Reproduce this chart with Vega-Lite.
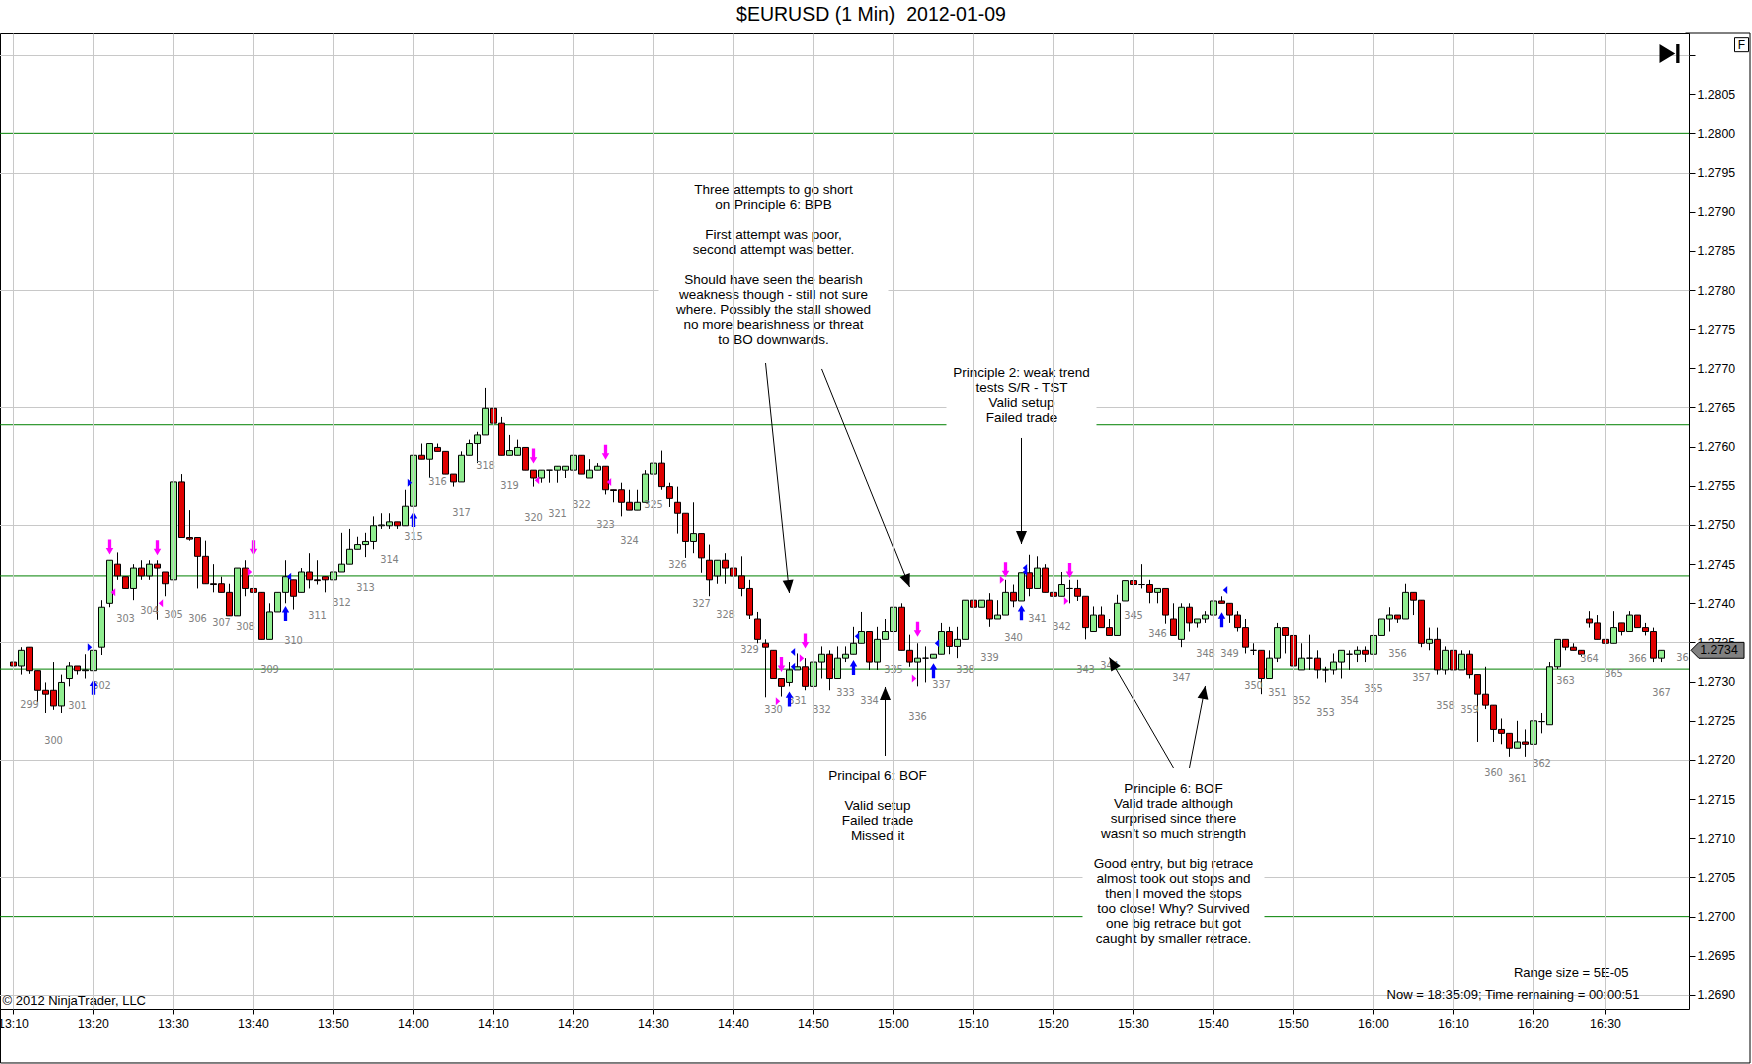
{
  "$schema": "https://vega.github.io/schema/vega-lite/v6.json",
  "width": 1689,
  "height": 976,
  "autosize": {"type": "none"},
  "padding": {"left": 0, "top": 33, "right": 63, "bottom": 55},
  "title": {
    "text": "$EURUSD (1 Min) \u00a02012-01-09",
    "font": "Liberation Sans",
    "fontSize": 19.5,
    "fontWeight": "normal",
    "color": "black",
    "anchor": "middle",
    "frame": "group",
    "dx": 26.5,
    "dy": 18,
    "offset": 10,
    "baseline": "alphabetic"
  },
  "datasets": {
    "candles": [
      {"t": "13:10", "o": 1.27325, "h": 1.27349, "l": 1.27315, "c": 1.2732},
      {"t": "13:11", "o": 1.2732, "h": 1.27344, "l": 1.27309, "c": 1.2734},
      {"t": "13:12", "o": 1.27344, "h": 1.27344, "l": 1.2731, "c": 1.27314, "n": 299},
      {"t": "13:13", "o": 1.27314, "h": 1.27314, "l": 1.27274, "c": 1.27289},
      {"t": "13:14", "o": 1.27289, "h": 1.27299, "l": 1.2726, "c": 1.27284},
      {"t": "13:15", "o": 1.27289, "h": 1.27325, "l": 1.27264, "c": 1.27269, "n": 300},
      {"t": "13:16", "o": 1.27269, "h": 1.27309, "l": 1.2726, "c": 1.27299},
      {"t": "13:17", "o": 1.27304, "h": 1.27325, "l": 1.27294, "c": 1.2732},
      {"t": "13:18", "o": 1.2732, "h": 1.2732, "l": 1.27309, "c": 1.27314, "n": 301},
      {"t": "13:19", "o": 1.27314, "h": 1.27335, "l": 1.27304, "c": 1.27315},
      {"t": "13:20", "o": 1.27314, "h": 1.27343, "l": 1.27309, "c": 1.2734},
      {"t": "13:21", "o": 1.27344, "h": 1.27404, "l": 1.27334, "c": 1.27395, "n": 302},
      {"t": "13:22", "o": 1.274, "h": 1.27455, "l": 1.27395, "c": 1.27455},
      {"t": "13:23", "o": 1.2745, "h": 1.27465, "l": 1.2743, "c": 1.27435},
      {"t": "13:24", "o": 1.27434, "h": 1.27434, "l": 1.27419, "c": 1.27419, "n": 303},
      {"t": "13:25", "o": 1.27419, "h": 1.2745, "l": 1.27404, "c": 1.27445},
      {"t": "13:26", "o": 1.27445, "h": 1.27455, "l": 1.2743, "c": 1.27435},
      {"t": "13:27", "o": 1.27435, "h": 1.27455, "l": 1.2743, "c": 1.2745, "n": 304},
      {"t": "13:28", "o": 1.2745, "h": 1.27455, "l": 1.27379, "c": 1.27445},
      {"t": "13:29", "o": 1.2744, "h": 1.2744, "l": 1.27409, "c": 1.27425},
      {"t": "13:30", "o": 1.2743, "h": 1.27565, "l": 1.27425, "c": 1.27555, "n": 305},
      {"t": "13:31", "o": 1.27555, "h": 1.27565, "l": 1.27484, "c": 1.27484},
      {"t": "13:32", "o": 1.27484, "h": 1.27519, "l": 1.2748, "c": 1.27482},
      {"t": "13:33", "o": 1.27484, "h": 1.27484, "l": 1.27419, "c": 1.2746, "n": 306},
      {"t": "13:34", "o": 1.2746, "h": 1.2748, "l": 1.27425, "c": 1.27425},
      {"t": "13:35", "o": 1.27425, "h": 1.2745, "l": 1.27414, "c": 1.27424},
      {"t": "13:36", "o": 1.27425, "h": 1.27434, "l": 1.27414, "c": 1.27414, "n": 307},
      {"t": "13:37", "o": 1.27414, "h": 1.27425, "l": 1.27384, "c": 1.27384},
      {"t": "13:38", "o": 1.27384, "h": 1.27445, "l": 1.27384, "c": 1.27445},
      {"t": "13:39", "o": 1.27445, "h": 1.27455, "l": 1.27409, "c": 1.27419, "n": 308},
      {"t": "13:40", "o": 1.27419, "h": 1.27455, "l": 1.27409, "c": 1.27414},
      {"t": "13:41", "o": 1.27414, "h": 1.27414, "l": 1.27354, "c": 1.27354},
      {"t": "13:42", "o": 1.27354, "h": 1.274, "l": 1.27354, "c": 1.27389, "n": 309},
      {"t": "13:43", "o": 1.27389, "h": 1.27414, "l": 1.27389, "c": 1.27414},
      {"t": "13:44", "o": 1.27414, "h": 1.27455, "l": 1.274, "c": 1.27434},
      {"t": "13:45", "o": 1.2743, "h": 1.2743, "l": 1.27392, "c": 1.27409, "n": 310},
      {"t": "13:46", "o": 1.27414, "h": 1.27445, "l": 1.27414, "c": 1.2744},
      {"t": "13:47", "o": 1.2744, "h": 1.27464, "l": 1.27419, "c": 1.2743},
      {"t": "13:48", "o": 1.2743, "h": 1.27455, "l": 1.27424, "c": 1.27429, "n": 311},
      {"t": "13:49", "o": 1.27434, "h": 1.27434, "l": 1.27414, "c": 1.2743},
      {"t": "13:50", "o": 1.2743, "h": 1.27445, "l": 1.2743, "c": 1.2744},
      {"t": "13:51", "o": 1.2744, "h": 1.2749, "l": 1.2744, "c": 1.2745, "n": 312},
      {"t": "13:52", "o": 1.2745, "h": 1.27495, "l": 1.2745, "c": 1.27469},
      {"t": "13:53", "o": 1.27469, "h": 1.27485, "l": 1.27469, "c": 1.27475},
      {"t": "13:54", "o": 1.27475, "h": 1.2749, "l": 1.27459, "c": 1.27479, "n": 313},
      {"t": "13:55", "o": 1.27479, "h": 1.27511, "l": 1.27469, "c": 1.27499},
      {"t": "13:56", "o": 1.27499, "h": 1.27515, "l": 1.27495, "c": 1.275},
      {"t": "13:57", "o": 1.27499, "h": 1.27515, "l": 1.27495, "c": 1.27504, "n": 314},
      {"t": "13:58", "o": 1.27504, "h": 1.27504, "l": 1.27495, "c": 1.27499},
      {"t": "13:59", "o": 1.27499, "h": 1.27545, "l": 1.27499, "c": 1.27524},
      {"t": "14:00", "o": 1.27524, "h": 1.27604, "l": 1.27524, "c": 1.27589, "n": 315},
      {"t": "14:01", "o": 1.27589, "h": 1.27604, "l": 1.27584, "c": 1.27584},
      {"t": "14:02", "o": 1.27584, "h": 1.27604, "l": 1.2756, "c": 1.27604},
      {"t": "14:03", "o": 1.27599, "h": 1.27604, "l": 1.27594, "c": 1.27594, "n": 316},
      {"t": "14:04", "o": 1.27594, "h": 1.27594, "l": 1.27565, "c": 1.27565},
      {"t": "14:05", "o": 1.27565, "h": 1.27565, "l": 1.27549, "c": 1.27555},
      {"t": "14:06", "o": 1.27555, "h": 1.27594, "l": 1.27555, "c": 1.27589, "n": 317},
      {"t": "14:07", "o": 1.27589, "h": 1.27609, "l": 1.27589, "c": 1.27604},
      {"t": "14:08", "o": 1.27604, "h": 1.27619, "l": 1.27579, "c": 1.27615},
      {"t": "14:09", "o": 1.27615, "h": 1.27675, "l": 1.27615, "c": 1.27649, "n": 318},
      {"t": "14:10", "o": 1.27649, "h": 1.27649, "l": 1.27619, "c": 1.2763},
      {"t": "14:11", "o": 1.2763, "h": 1.27638, "l": 1.27589, "c": 1.27589},
      {"t": "14:12", "o": 1.27589, "h": 1.27615, "l": 1.27589, "c": 1.27595, "n": 319},
      {"t": "14:13", "o": 1.27589, "h": 1.27609, "l": 1.27589, "c": 1.27599},
      {"t": "14:14", "o": 1.27599, "h": 1.27599, "l": 1.2757, "c": 1.2757},
      {"t": "14:15", "o": 1.2757, "h": 1.2757, "l": 1.27549, "c": 1.2756, "n": 320},
      {"t": "14:16", "o": 1.2756, "h": 1.2757, "l": 1.27554, "c": 1.2757},
      {"t": "14:17", "o": 1.2757, "h": 1.2757, "l": 1.27554, "c": 1.2757},
      {"t": "14:18", "o": 1.2757, "h": 1.27575, "l": 1.27554, "c": 1.27575, "n": 321},
      {"t": "14:19", "o": 1.2757, "h": 1.27575, "l": 1.2756, "c": 1.27575},
      {"t": "14:20", "o": 1.2757, "h": 1.27605, "l": 1.27565, "c": 1.27589},
      {"t": "14:21", "o": 1.27589, "h": 1.27589, "l": 1.27565, "c": 1.27565, "n": 322},
      {"t": "14:22", "o": 1.2756, "h": 1.27584, "l": 1.2756, "c": 1.2757},
      {"t": "14:23", "o": 1.2757, "h": 1.27579, "l": 1.2757, "c": 1.27575},
      {"t": "14:24", "o": 1.27575, "h": 1.27575, "l": 1.27539, "c": 1.27545, "n": 323},
      {"t": "14:25", "o": 1.27545, "h": 1.27545, "l": 1.27529, "c": 1.27544},
      {"t": "14:26", "o": 1.27545, "h": 1.27554, "l": 1.27511, "c": 1.27529},
      {"t": "14:27", "o": 1.27529, "h": 1.27545, "l": 1.27519, "c": 1.27519, "n": 324},
      {"t": "14:28", "o": 1.27519, "h": 1.27545, "l": 1.27519, "c": 1.27529},
      {"t": "14:29", "o": 1.27529, "h": 1.2757, "l": 1.27529, "c": 1.27565},
      {"t": "14:30", "o": 1.27565, "h": 1.27579, "l": 1.27565, "c": 1.27579, "n": 325},
      {"t": "14:31", "o": 1.27579, "h": 1.27595, "l": 1.27545, "c": 1.27549},
      {"t": "14:32", "o": 1.27549, "h": 1.27554, "l": 1.27523, "c": 1.27534},
      {"t": "14:33", "o": 1.27529, "h": 1.27549, "l": 1.27489, "c": 1.27515, "n": 326},
      {"t": "14:34", "o": 1.27515, "h": 1.27515, "l": 1.27458, "c": 1.27479},
      {"t": "14:35", "o": 1.27479, "h": 1.27529, "l": 1.27464, "c": 1.27489},
      {"t": "14:36", "o": 1.27489, "h": 1.27489, "l": 1.27439, "c": 1.27458, "n": 327},
      {"t": "14:37", "o": 1.27455, "h": 1.27475, "l": 1.27409, "c": 1.2743},
      {"t": "14:38", "o": 1.27435, "h": 1.27455, "l": 1.27425, "c": 1.27455},
      {"t": "14:39", "o": 1.27455, "h": 1.27464, "l": 1.27425, "c": 1.27445, "n": 328},
      {"t": "14:40", "o": 1.27445, "h": 1.27464, "l": 1.27419, "c": 1.27435},
      {"t": "14:41", "o": 1.27435, "h": 1.2746, "l": 1.27409, "c": 1.27419},
      {"t": "14:42", "o": 1.27419, "h": 1.2743, "l": 1.2738, "c": 1.27385, "n": 329},
      {"t": "14:43", "o": 1.2738, "h": 1.27389, "l": 1.27349, "c": 1.27354},
      {"t": "14:44", "o": 1.27349, "h": 1.27354, "l": 1.2728, "c": 1.27344},
      {"t": "14:45", "o": 1.2734, "h": 1.2734, "l": 1.27304, "c": 1.27304, "n": 330},
      {"t": "14:46", "o": 1.27304, "h": 1.27304, "l": 1.27281, "c": 1.27294},
      {"t": "14:47", "o": 1.27299, "h": 1.27325, "l": 1.27294, "c": 1.27315},
      {"t": "14:48", "o": 1.27315, "h": 1.27336, "l": 1.27315, "c": 1.27319, "n": 331},
      {"t": "14:49", "o": 1.27319, "h": 1.2733, "l": 1.27289, "c": 1.27294},
      {"t": "14:50", "o": 1.27294, "h": 1.27325, "l": 1.27289, "c": 1.27325},
      {"t": "14:51", "o": 1.27325, "h": 1.27345, "l": 1.27304, "c": 1.27335, "n": 332},
      {"t": "14:52", "o": 1.27335, "h": 1.2734, "l": 1.27289, "c": 1.27304},
      {"t": "14:53", "o": 1.27304, "h": 1.27345, "l": 1.27304, "c": 1.2733},
      {"t": "14:54", "o": 1.2733, "h": 1.27345, "l": 1.27325, "c": 1.27335, "n": 333},
      {"t": "14:55", "o": 1.27335, "h": 1.2737, "l": 1.27335, "c": 1.27349},
      {"t": "14:56", "o": 1.27349, "h": 1.27389, "l": 1.27349, "c": 1.27364},
      {"t": "14:57", "o": 1.27364, "h": 1.27364, "l": 1.27315, "c": 1.27325, "n": 334},
      {"t": "14:58", "o": 1.27325, "h": 1.2737, "l": 1.27315, "c": 1.27354},
      {"t": "14:59", "o": 1.27354, "h": 1.2738, "l": 1.27354, "c": 1.27364},
      {"t": "15:00", "o": 1.27364, "h": 1.27395, "l": 1.27354, "c": 1.27395, "n": 335},
      {"t": "15:01", "o": 1.27395, "h": 1.274, "l": 1.2734, "c": 1.2734},
      {"t": "15:02", "o": 1.2734, "h": 1.2736, "l": 1.27319, "c": 1.27325},
      {"t": "15:03", "o": 1.27325, "h": 1.27349, "l": 1.27294, "c": 1.2733, "n": 336},
      {"t": "15:04", "o": 1.2733, "h": 1.27345, "l": 1.27299, "c": 1.2733},
      {"t": "15:05", "o": 1.2733, "h": 1.27335, "l": 1.2733, "c": 1.27335},
      {"t": "15:06", "o": 1.27335, "h": 1.27375, "l": 1.27335, "c": 1.27364, "n": 337},
      {"t": "15:07", "o": 1.27364, "h": 1.2737, "l": 1.27335, "c": 1.27345},
      {"t": "15:08", "o": 1.27345, "h": 1.2737, "l": 1.2733, "c": 1.27354},
      {"t": "15:09", "o": 1.27354, "h": 1.27404, "l": 1.27354, "c": 1.27404, "n": 338},
      {"t": "15:10", "o": 1.27404, "h": 1.27404, "l": 1.27385, "c": 1.27395},
      {"t": "15:11", "o": 1.27395, "h": 1.27404, "l": 1.27395, "c": 1.27404},
      {"t": "15:12", "o": 1.27404, "h": 1.27413, "l": 1.2737, "c": 1.2738, "n": 339},
      {"t": "15:13", "o": 1.2738, "h": 1.27404, "l": 1.2738, "c": 1.27385},
      {"t": "15:14", "o": 1.27385, "h": 1.2743, "l": 1.27385, "c": 1.27414},
      {"t": "15:15", "o": 1.27414, "h": 1.27424, "l": 1.27395, "c": 1.27403, "n": 340},
      {"t": "15:16", "o": 1.27403, "h": 1.27439, "l": 1.27403, "c": 1.27439},
      {"t": "15:17", "o": 1.27439, "h": 1.27462, "l": 1.27409, "c": 1.27419},
      {"t": "15:18", "o": 1.27419, "h": 1.2746, "l": 1.27419, "c": 1.27445, "n": 341},
      {"t": "15:19", "o": 1.27445, "h": 1.2745, "l": 1.27414, "c": 1.27414},
      {"t": "15:20", "o": 1.27414, "h": 1.2745, "l": 1.27409, "c": 1.27409},
      {"t": "15:21", "o": 1.27409, "h": 1.2744, "l": 1.27409, "c": 1.27424, "n": 342},
      {"t": "15:22", "o": 1.27419, "h": 1.2743, "l": 1.274, "c": 1.27419},
      {"t": "15:23", "o": 1.27419, "h": 1.2743, "l": 1.27403, "c": 1.27409},
      {"t": "15:24", "o": 1.27409, "h": 1.27409, "l": 1.27354, "c": 1.27369, "n": 343},
      {"t": "15:25", "o": 1.27364, "h": 1.27396, "l": 1.27364, "c": 1.27385},
      {"t": "15:26", "o": 1.27385, "h": 1.27396, "l": 1.27369, "c": 1.27369},
      {"t": "15:27", "o": 1.27369, "h": 1.2738, "l": 1.27359, "c": 1.27359, "n": 344},
      {"t": "15:28", "o": 1.27359, "h": 1.27411, "l": 1.27359, "c": 1.274},
      {"t": "15:29", "o": 1.27403, "h": 1.27429, "l": 1.27403, "c": 1.27429},
      {"t": "15:30", "o": 1.27429, "h": 1.2744, "l": 1.27424, "c": 1.27424, "n": 345},
      {"t": "15:31", "o": 1.27424, "h": 1.2745, "l": 1.27419, "c": 1.27424},
      {"t": "15:32", "o": 1.27424, "h": 1.2743, "l": 1.274, "c": 1.27414},
      {"t": "15:33", "o": 1.27414, "h": 1.27419, "l": 1.274, "c": 1.27419, "n": 346},
      {"t": "15:34", "o": 1.27419, "h": 1.27419, "l": 1.27374, "c": 1.27385},
      {"t": "15:35", "o": 1.2738, "h": 1.274, "l": 1.27359, "c": 1.27359},
      {"t": "15:36", "o": 1.27354, "h": 1.274, "l": 1.27344, "c": 1.27395, "n": 347},
      {"t": "15:37", "o": 1.27395, "h": 1.274, "l": 1.27364, "c": 1.27375},
      {"t": "15:38", "o": 1.27375, "h": 1.2738, "l": 1.27369, "c": 1.2738},
      {"t": "15:39", "o": 1.2738, "h": 1.2739, "l": 1.27375, "c": 1.27385, "n": 348},
      {"t": "15:40", "o": 1.27385, "h": 1.27409, "l": 1.2738, "c": 1.27403},
      {"t": "15:41", "o": 1.27403, "h": 1.27409, "l": 1.274, "c": 1.274},
      {"t": "15:42", "o": 1.274, "h": 1.274, "l": 1.27375, "c": 1.27385, "n": 349},
      {"t": "15:43", "o": 1.27385, "h": 1.2739, "l": 1.27364, "c": 1.27369},
      {"t": "15:44", "o": 1.27369, "h": 1.2738, "l": 1.27336, "c": 1.27344},
      {"t": "15:45", "o": 1.2734, "h": 1.27349, "l": 1.27334, "c": 1.2734, "n": 350},
      {"t": "15:46", "o": 1.2734, "h": 1.2734, "l": 1.27284, "c": 1.27304},
      {"t": "15:47", "o": 1.27304, "h": 1.2734, "l": 1.27304, "c": 1.2733},
      {"t": "15:48", "o": 1.2733, "h": 1.27375, "l": 1.27325, "c": 1.27369, "n": 351},
      {"t": "15:49", "o": 1.27369, "h": 1.27369, "l": 1.27336, "c": 1.27359},
      {"t": "15:50", "o": 1.27359, "h": 1.27359, "l": 1.27309, "c": 1.2732},
      {"t": "15:51", "o": 1.27315, "h": 1.27349, "l": 1.27315, "c": 1.2733, "n": 352},
      {"t": "15:52", "o": 1.2733, "h": 1.2736, "l": 1.27315, "c": 1.2733},
      {"t": "15:53", "o": 1.2733, "h": 1.2734, "l": 1.27304, "c": 1.27315},
      {"t": "15:54", "o": 1.27315, "h": 1.27319, "l": 1.27299, "c": 1.27315, "n": 353},
      {"t": "15:55", "o": 1.27315, "h": 1.27336, "l": 1.27309, "c": 1.27325},
      {"t": "15:56", "o": 1.27325, "h": 1.2734, "l": 1.27304, "c": 1.2734},
      {"t": "15:57", "o": 1.27335, "h": 1.2734, "l": 1.27315, "c": 1.27335, "n": 354},
      {"t": "15:58", "o": 1.27335, "h": 1.27345, "l": 1.27325, "c": 1.2734},
      {"t": "15:59", "o": 1.2734, "h": 1.27345, "l": 1.27325, "c": 1.27335},
      {"t": "16:00", "o": 1.27335, "h": 1.2738, "l": 1.2733, "c": 1.27359, "n": 355},
      {"t": "16:01", "o": 1.27359, "h": 1.2738, "l": 1.27359, "c": 1.2738},
      {"t": "16:02", "o": 1.2738, "h": 1.27395, "l": 1.27364, "c": 1.27385},
      {"t": "16:03", "o": 1.27385, "h": 1.27385, "l": 1.27375, "c": 1.2738, "n": 356},
      {"t": "16:04", "o": 1.2738, "h": 1.27425, "l": 1.2738, "c": 1.27414},
      {"t": "16:05", "o": 1.27414, "h": 1.27414, "l": 1.27385, "c": 1.27404},
      {"t": "16:06", "o": 1.27404, "h": 1.27404, "l": 1.27344, "c": 1.27349, "n": 357},
      {"t": "16:07", "o": 1.27349, "h": 1.27369, "l": 1.2734, "c": 1.27354},
      {"t": "16:08", "o": 1.27354, "h": 1.27369, "l": 1.27309, "c": 1.27315},
      {"t": "16:09", "o": 1.27315, "h": 1.27345, "l": 1.27309, "c": 1.2734, "n": 358},
      {"t": "16:10", "o": 1.2734, "h": 1.27349, "l": 1.27315, "c": 1.27315},
      {"t": "16:11", "o": 1.27315, "h": 1.2734, "l": 1.27315, "c": 1.27335},
      {"t": "16:12", "o": 1.27335, "h": 1.2734, "l": 1.27304, "c": 1.27309, "n": 359},
      {"t": "16:13", "o": 1.27309, "h": 1.27309, "l": 1.27223, "c": 1.27284},
      {"t": "16:14", "o": 1.27284, "h": 1.27319, "l": 1.27265, "c": 1.2727},
      {"t": "16:15", "o": 1.2727, "h": 1.2727, "l": 1.27223, "c": 1.27239, "n": 360},
      {"t": "16:16", "o": 1.27239, "h": 1.27253, "l": 1.2722, "c": 1.27234},
      {"t": "16:17", "o": 1.27234, "h": 1.27234, "l": 1.27204, "c": 1.27215},
      {"t": "16:18", "o": 1.27215, "h": 1.2725, "l": 1.27215, "c": 1.27223, "n": 361},
      {"t": "16:19", "o": 1.27223, "h": 1.27239, "l": 1.27204, "c": 1.2722},
      {"t": "16:20", "o": 1.2722, "h": 1.2727, "l": 1.2722, "c": 1.2725},
      {"t": "16:21", "o": 1.27249, "h": 1.2726, "l": 1.27234, "c": 1.27249, "n": 362},
      {"t": "16:22", "o": 1.27245, "h": 1.27325, "l": 1.27245, "c": 1.27319},
      {"t": "16:23", "o": 1.27319, "h": 1.27354, "l": 1.27316, "c": 1.27354},
      {"t": "16:24", "o": 1.27354, "h": 1.27354, "l": 1.2734, "c": 1.27344, "n": 363},
      {"t": "16:26", "o": 1.27344, "h": 1.27349, "l": 1.2734, "c": 1.2734},
      {"t": "16:27", "o": 1.2734, "h": 1.2734, "l": 1.27332, "c": 1.27335},
      {"t": "16:28", "o": 1.2738, "h": 1.2739, "l": 1.27369, "c": 1.27375, "n": 364},
      {"t": "16:29", "o": 1.27375, "h": 1.27385, "l": 1.27354, "c": 1.27354},
      {"t": "16:30", "o": 1.27354, "h": 1.27354, "l": 1.27349, "c": 1.27349},
      {"t": "16:31", "o": 1.27349, "h": 1.2739, "l": 1.27349, "c": 1.27369, "n": 365},
      {"t": "16:32", "o": 1.27375, "h": 1.27375, "l": 1.27359, "c": 1.27364},
      {"t": "16:33", "o": 1.27364, "h": 1.2739, "l": 1.27364, "c": 1.27385},
      {"t": "16:34", "o": 1.27385, "h": 1.27385, "l": 1.27369, "c": 1.27369, "n": 366},
      {"t": "16:35", "o": 1.27369, "h": 1.27375, "l": 1.27359, "c": 1.27364},
      {"t": "16:36", "o": 1.27364, "h": 1.27369, "l": 1.27325, "c": 1.2733},
      {"t": "16:37", "o": 1.2733, "h": 1.2734, "l": 1.27325, "c": 1.2734, "n": 367}
    ],
    "levels": [
      {"p": 1.28},
      {"p": 1.27628},
      {"p": 1.27435},
      {"p": 1.27316},
      {"p": 1.27}
    ],
    "markers": [
      {"t": "13:22", "p": 1.27472, "sig": "sell", "g": "arrow"},
      {"t": "13:28", "p": 1.27471, "sig": "sell", "g": "arrow"},
      {"t": "13:40", "p": 1.27471, "sig": "sell", "g": "arrow"},
      {"t": "14:15", "p": 1.27588, "sig": "sell", "g": "arrow"},
      {"t": "14:24", "p": 1.27593, "sig": "sell", "g": "arrow"},
      {"t": "14:46", "p": 1.27322, "sig": "sell", "g": "arrow"},
      {"t": "14:49", "p": 1.27352, "sig": "sell", "g": "arrow"},
      {"t": "15:03", "p": 1.27367, "sig": "sell", "g": "arrow"},
      {"t": "15:14", "p": 1.27443, "sig": "sell", "g": "arrow"},
      {"t": "15:22", "p": 1.27442, "sig": "sell", "g": "arrow"},
      {"t": "13:20", "p": 1.27293, "sig": "buy", "g": "arrow"},
      {"t": "13:44", "p": 1.27387, "sig": "buy", "g": "arrow"},
      {"t": "14:00", "p": 1.27507, "sig": "buy", "g": "arrow"},
      {"t": "14:47", "p": 1.27278, "sig": "buy", "g": "arrow"},
      {"t": "14:55", "p": 1.27318, "sig": "buy", "g": "arrow"},
      {"t": "15:05", "p": 1.27314, "sig": "buy", "g": "arrow"},
      {"t": "15:16", "p": 1.27388, "sig": "buy", "g": "arrow"},
      {"t": "15:41", "p": 1.27379, "sig": "buy", "g": "arrow"},
      {"t": "13:20", "p": 1.27344, "sig": "buy", "g": "tri-r"},
      {"t": "14:00", "p": 1.27554, "sig": "buy", "g": "tri-r"},
      {"t": "13:40", "p": 1.2744, "sig": "sell", "g": "tri-r"},
      {"t": "14:46", "p": 1.27275, "sig": "sell", "g": "tri-r"},
      {"t": "14:49", "p": 1.2733, "sig": "sell", "g": "tri-r"},
      {"t": "15:03", "p": 1.27304, "sig": "sell", "g": "tri-r"},
      {"t": "15:14", "p": 1.2743, "sig": "sell", "g": "tri-r"},
      {"t": "15:22", "p": 1.27403, "sig": "sell", "g": "tri-r"},
      {"t": "13:44", "p": 1.27434, "sig": "buy", "g": "tri-l"},
      {"t": "14:47", "p": 1.27338, "sig": "buy", "g": "tri-l"},
      {"t": "14:47", "p": 1.27319, "sig": "buy", "g": "tri-l"},
      {"t": "14:55", "p": 1.27358, "sig": "buy", "g": "tri-l"},
      {"t": "15:05", "p": 1.27349, "sig": "buy", "g": "tri-l"},
      {"t": "15:16", "p": 1.27445, "sig": "buy", "g": "tri-l"},
      {"t": "15:16", "p": 1.2744, "sig": "buy", "g": "tri-l"},
      {"t": "15:41", "p": 1.27417, "sig": "buy", "g": "tri-l"},
      {"t": "13:22", "p": 1.27414, "sig": "sell", "g": "tri-l"},
      {"t": "13:28", "p": 1.274, "sig": "sell", "g": "tri-l"},
      {"t": "14:15", "p": 1.27557, "sig": "sell", "g": "tri-l"},
      {"t": "14:24", "p": 1.27555, "sig": "sell", "g": "tri-l"}
    ],
    "boxes": [
      {"t1": "14:31", "t2": "14:59", "p1": 1.279449, "p2": 1.277234},
      {"t1": "15:07", "t2": "15:25", "p1": 1.277106, "p2": 1.276251},
      {"t1": "14:51", "t2": "15:05", "p1": 1.271936, "p2": 1.270927},
      {"t1": "15:24", "t2": "15:46", "p1": 1.271757, "p2": 1.269606}
    ],
    "arrows": [
      {"t1": "14:44", "p1": 1.277068, "t2": "14:47", "p2": 1.274132, "a": 174},
      {"t1": "14:51", "p1": 1.276992, "t2": "15:02", "p2": 1.274208, "a": 158},
      {"t1": "15:16", "p1": 1.276111, "t2": "15:16", "p2": 1.274757, "a": 180},
      {"t1": "14:59", "p1": 1.272051, "t2": "14:59", "p2": 1.272932, "a": 0},
      {"t1": "15:35", "p1": 1.271898, "t2": "15:27", "p2": 1.273308, "a": 330},
      {"t1": "15:37", "p1": 1.271898, "t2": "15:39", "p2": 1.272945, "a": 11}
    ],
    "notes": [
      {"t": "14:45", "p": 1.279361, "txt": "Three attempts to go short\non Principle 6: BPB"},
      {"t": "14:45", "p": 1.278787, "txt": "First attempt was poor,\nsecond attempt was better."},
      {"t": "14:45", "p": 1.278212, "txt": "Should have seen the bearish\nweakness though - still not sure\nwhere. Possibly the stall showed\nno more bearishness or threat\nto BO downwards."},
      {"t": "15:16", "p": 1.277036, "txt": "Principle 2: weak trend\ntests S/R - TST\nValid setup\nFailed trade"},
      {"t": "14:58", "p": 1.271888, "txt": "Principal 6: BOF"},
      {"t": "14:58", "p": 1.271505, "txt": "Valid setup\nFailed trade\nMissed it"},
      {"t": "15:35", "p": 1.271716, "txt": "Principle 6: BOF\nValid trade although\nsurprised since there\nwasn't so much strength"},
      {"t": "15:35", "p": 1.270759, "txt": "Good entry, but big retrace\nalmost took out stops and\nthen I moved the stops\ntoo close! Why? Survived\none big retrace but got\ncaught by smaller retrace."}
    ]
  },
  "layer": [
    {
      "data": {"name": "levels"},
      "mark": {"type": "rule", "color": "#008000", "strokeWidth": 1},
      "encoding": {
        "y": {"field": "p", "type": "quantitative"}
      }
    },
    {
      "data": {"name": "boxes"},
      "mark": {"type": "rect", "color": "white", "opacity": 1},
      "encoding": {
        "x": {"field": "t1", "type": "ordinal", "bandPosition": 0},
        "x2": {"field": "t2", "bandPosition": 1},
        "y": {"field": "p1", "type": "quantitative"},
        "y2": {"field": "p2"}
      }
    },
    {
      "data": {"name": "arrows"},
      "mark": {"type": "rule", "color": "black", "strokeWidth": 1},
      "encoding": {
        "x": {"field": "t1", "type": "ordinal", "bandPosition": 0.5},
        "x2": {"field": "t2", "bandPosition": 0.5},
        "y": {"field": "p1", "type": "quantitative"},
        "y2": {"field": "p2"}
      }
    },
    {
      "data": {"name": "candles"},
      "mark": {"type": "rule", "color": "black", "strokeWidth": 1},
      "encoding": {
        "x": {
          "field": "t",
          "type": "ordinal",
          "scale": {
            "domain": ["13:10","13:11","13:12","13:13","13:14","13:15","13:16","13:17","13:18","13:19","13:20","13:21","13:22","13:23","13:24","13:25","13:26","13:27","13:28","13:29","13:30","13:31","13:32","13:33","13:34","13:35","13:36","13:37","13:38","13:39","13:40","13:41","13:42","13:43","13:44","13:45","13:46","13:47","13:48","13:49","13:50","13:51","13:52","13:53","13:54","13:55","13:56","13:57","13:58","13:59","14:00","14:01","14:02","14:03","14:04","14:05","14:06","14:07","14:08","14:09","14:10","14:11","14:12","14:13","14:14","14:15","14:16","14:17","14:18","14:19","14:20","14:21","14:22","14:23","14:24","14:25","14:26","14:27","14:28","14:29","14:30","14:31","14:32","14:33","14:34","14:35","14:36","14:37","14:38","14:39","14:40","14:41","14:42","14:43","14:44","14:45","14:46","14:47","14:48","14:49","14:50","14:51","14:52","14:53","14:54","14:55","14:56","14:57","14:58","14:59","15:00","15:01","15:02","15:03","15:04","15:05","15:06","15:07","15:08","15:09","15:10","15:11","15:12","15:13","15:14","15:15","15:16","15:17","15:18","15:19","15:20","15:21","15:22","15:23","15:24","15:25","15:26","15:27","15:28","15:29","15:30","15:31","15:32","15:33","15:34","15:35","15:36","15:37","15:38","15:39","15:40","15:41","15:42","15:43","15:44","15:45","15:46","15:47","15:48","15:49","15:50","15:51","15:52","15:53","15:54","15:55","15:56","15:57","15:58","15:59","16:00","16:01","16:02","16:03","16:04","16:05","16:06","16:07","16:08","16:09","16:10","16:11","16:12","16:13","16:14","16:15","16:16","16:17","16:18","16:19","16:20","16:21","16:22","16:23","16:24","16:26","16:27","16:28","16:29","16:30","16:31","16:32","16:33","16:34","16:35","16:36","16:37","16:38","16:39","16:40","16:41","16:42","16:43","16:44","16:45","16:46","16:47","16:48"],
            "range": [0, 1752.5],
            "paddingInner": 0.25,
            "paddingOuter": 0.65625,
            "align": 1,
            "round": false
          },
          "axis": {
            "values": ["13:10","13:20","13:30","13:40","13:50","14:00","14:10","14:20","14:30","14:40","14:50","15:00","15:10","15:20","15:30","15:40","15:50","16:00","16:10","16:20","16:30"],
            "title": null,
            "grid": true,
            "gridColor": "#c8c8c8",
            "gridWidth": 1,
            "bandPosition": 0.5,
            "domain": false,
            "ticks": true,
            "tickColor": "black",
            "tickSize": 5,
            "labelAngle": 0,
            "labelAlign": "center",
            "labelBaseline": "top",
            "labelFont": "Liberation Sans",
            "labelFontSize": 12.3,
            "labelColor": "black",
            "labelPadding": 3,
            "labelFlush": false,
            "labelOverlap": false,
            "labelBound": false
          }
        },
        "y": {
          "field": "l",
          "type": "quantitative",
          "scale": {"domain": [1.268821, 1.281281], "nice": false, "zero": false},
          "axis": {
            "orient": "right",
            "values": [1.269, 1.2695, 1.27, 1.2705, 1.271, 1.2715, 1.272, 1.2725, 1.273, 1.2735, 1.274, 1.2745, 1.275, 1.2755, 1.276, 1.2765, 1.277, 1.2775, 1.278, 1.2785, 1.279, 1.2795, 1.28, 1.2805, 1.281],
            "format": ".4f",
            "labelExpr": "datum.value > 1.28075 ? '' : datum.label",
            "title": null,
            "grid": true,
            "gridColor": "#c8c8c8",
            "gridWidth": 1,
            "gridOpacity": {"condition": {"test": "round(datum.value * 10000) % 15 == 0", "value": 1}, "value": 0},
            "domain": false,
            "tickColor": "black",
            "tickSize": 6,
            "labelFont": "Liberation Sans",
            "labelFontSize": 12.3,
            "labelColor": "black",
            "labelPadding": 2,
            "labelOverlap": false,
            "labelBound": false
          }
        },
        "y2": {"field": "h"}
      }
    },
    {
      "data": {"name": "candles"},
      "mark": {"type": "bar", "stroke": "black", "strokeWidth": 1},
      "encoding": {
        "x": {"field": "t", "type": "ordinal"},
        "y": {"field": "o", "type": "quantitative"},
        "y2": {"field": "c"},
        "color": {"condition": {"test": "datum.c >= datum.o", "value": "#90ee90"}, "value": "#e00000"}
      }
    },
    {
      "data": {"name": "candles"},
      "transform": [{"filter": "isValid(datum.n)"}],
      "mark": {"type": "text", "font": "DejaVu Sans", "fontSize": 9.8, "color": "#808080", "dy": 31, "baseline": "middle", "align": "center"},
      "encoding": {
        "x": {"field": "t", "type": "ordinal"},
        "y": {"field": "l", "type": "quantitative"},
        "text": {"field": "n"}
      }
    },
    {
      "data": {"values": [{"t": "16:40", "p": 1.2733, "n": 368}]},
      "mark": {"type": "text", "font": "DejaVu Sans", "fontSize": 9.8, "color": "#808080", "baseline": "middle", "align": "center", "clip": true},
      "encoding": {
        "x": {"field": "t", "type": "ordinal"},
        "y": {"field": "p", "type": "quantitative"},
        "text": {"field": "n"}
      }
    },
    {
      "data": {"name": "arrows"},
      "mark": {"type": "point", "shape": "M0,0L-0.55,1.3L0.55,1.3Z", "size": 400, "filled": true, "color": "black", "opacity": 1, "strokeWidth": 0},
      "encoding": {
        "x": {"field": "t2", "type": "ordinal"},
        "y": {"field": "p2", "type": "quantitative"},
        "angle": {"field": "a", "type": "quantitative", "scale": null}
      }
    },
    {
      "data": {"name": "markers"},
      "transform": [{"filter": "datum.g == 'arrow'"}],
      "mark": {"type": "point", "filled": true, "size": 225, "opacity": 1, "strokeWidth": 0},
      "encoding": {
        "x": {"field": "t", "type": "ordinal"},
        "y": {"field": "p", "type": "quantitative"},
        "shape": {
          "field": "sig",
          "type": "nominal",
          "scale": {"domain": ["buy", "sell"], "range": ["M-0.22,1L0.22,1L0.22,-0.15L0.5,-0.15L0,-1L-0.5,-0.15L-0.22,-0.15Z", "M-0.22,-1L0.22,-1L0.22,0.15L0.5,0.15L0,1L-0.5,0.15L-0.22,0.15Z"]},
          "legend": null
        },
        "color": {"field": "sig", "type": "nominal", "scale": {"domain": ["buy", "sell"], "range": ["#0000ff", "#ff00ff"]}, "legend": null}
      }
    },
    {
      "data": {"name": "markers"},
      "transform": [{"filter": "datum.g == 'tri-r'"}],
      "mark": {"type": "point", "shape": "M-0.55,-1L0.55,0L-0.55,1Z", "filled": true, "size": 64, "opacity": 1, "strokeWidth": 0, "xOffset": -3.5},
      "encoding": {
        "x": {"field": "t", "type": "ordinal"},
        "y": {"field": "p", "type": "quantitative"},
        "color": {"field": "sig", "type": "nominal", "legend": null}
      }
    },
    {
      "data": {"name": "markers"},
      "transform": [{"filter": "datum.g == 'tri-l'"}],
      "mark": {"type": "point", "shape": "M0.55,-1L-0.55,0L0.55,1Z", "filled": true, "size": 64, "opacity": 1, "strokeWidth": 0, "xOffset": 3.5},
      "encoding": {
        "x": {"field": "t", "type": "ordinal"},
        "y": {"field": "p", "type": "quantitative"},
        "color": {"field": "sig", "type": "nominal", "legend": null}
      }
    },
    {
      "data": {"name": "notes"},
      "mark": {"type": "text", "font": "Liberation Sans", "fontSize": 13.5, "lineHeight": 15, "lineBreak": "\n", "align": "center", "baseline": "top", "color": "black"},
      "encoding": {
        "x": {"field": "t", "type": "ordinal"},
        "y": {"field": "p", "type": "quantitative"},
        "text": {"field": "txt"}
      }
    },
    {
      "data": {"values": [{}]},
      "mark": {"type": "point", "shape": "M-1,0L-0.7,-0.3L1,-0.3L1,0.3L-0.7,0.3Z", "size": 2809, "filled": true, "fill": "#808080", "stroke": "black", "strokeWidth": 1, "opacity": 1},
      "encoding": {
        "x": {"datum": "16:44", "type": "ordinal"},
        "y": {"datum": 1.2734, "type": "quantitative"}
      }
    },
    {
      "data": {"values": [{}]},
      "mark": {"type": "text", "text": "1.2734", "font": "Liberation Sans", "fontSize": 12.3, "color": "black", "dx": 1.5, "align": "center", "baseline": "middle"},
      "encoding": {
        "x": {"datum": "16:44", "type": "ordinal"},
        "y": {"datum": 1.2734, "type": "quantitative"}
      }
    },
    {
      "data": {"values": [{}]},
      "mark": {"type": "point", "shape": "square", "size": 196, "filled": true, "fill": "white", "stroke": "black", "strokeWidth": 1, "opacity": 1},
      "encoding": {
        "x": {"datum": "16:47", "type": "ordinal"},
        "y": {"datum": 1.281132, "type": "quantitative"}
      }
    },
    {
      "data": {"values": [{}]},
      "mark": {"type": "text", "text": "F", "font": "Liberation Sans", "fontSize": 12, "color": "black", "align": "center", "baseline": "middle"},
      "encoding": {
        "x": {"datum": "16:47", "type": "ordinal"},
        "y": {"datum": 1.281132, "type": "quantitative"}
      }
    },
    {
      "data": {"values": [{}]},
      "mark": {"type": "point", "shape": "M-1,-0.95L0.57,0L-1,0.95Z M0.67,-0.95L1,-0.95L1,0.95L0.67,0.95Z", "size": 400, "filled": true, "color": "black", "opacity": 1, "strokeWidth": 0},
      "encoding": {
        "x": {"datum": "16:38", "type": "ordinal"},
        "y": {"datum": 1.281019, "type": "quantitative"}
      }
    },
    {
      "data": {"values": [{}]},
      "mark": {"type": "text", "text": "\u00a9 2012 NinjaTrader, LLC", "font": "Liberation Sans", "fontSize": 13, "color": "black", "align": "left", "baseline": "middle", "dx": -11},
      "encoding": {
        "x": {"datum": "13:10", "type": "ordinal"},
        "y": {"datum": 1.268927, "type": "quantitative"}
      }
    },
    {
      "data": {"values": [{}]},
      "mark": {"type": "text", "text": "Range size = 5E-05", "font": "Liberation Sans", "fontSize": 13, "color": "black", "align": "right", "baseline": "middle", "dx": -1},
      "encoding": {
        "x": {"datum": "16:33", "type": "ordinal"},
        "y": {"datum": 1.269277, "type": "quantitative"}
      }
    },
    {
      "data": {"values": [{}]},
      "mark": {"type": "text", "text": "Now = 18:35:09; Time remaining = 00:00:51", "font": "Liberation Sans", "fontSize": 13, "color": "black", "align": "right", "baseline": "middle", "dx": 2},
      "encoding": {
        "x": {"datum": "16:34", "type": "ordinal"},
        "y": {"datum": 1.269, "type": "quantitative"}
      }
    },
    {
      "data": {"values": [{}]},
      "mark": {"type": "rule", "color": "black", "strokeWidth": 1, "xOffset": -13, "x2Offset": 0.5},
      "encoding": {
        "x": {"datum": "13:10", "type": "ordinal"},
        "x2": {"datum": "16:48"},
        "y": {"datum": 1.268132, "type": "quantitative"}
      }
    },
    {
      "data": {"values": [{}]},
      "mark": {"type": "rule", "color": "black", "strokeWidth": 1, "xOffset": 0.5},
      "encoding": {
        "x": {"datum": "16:48", "type": "ordinal"},
        "y": {"datum": 1.281281, "type": "quantitative"},
        "y2": {"datum": 1.268132}
      }
    },
    {
      "data": {"values": [{}]},
      "mark": {"type": "rule", "color": "black", "strokeWidth": 1, "x2Offset": 0.5},
      "encoding": {
        "x": {"datum": "16:40", "type": "ordinal"},
        "x2": {"datum": "16:48"},
        "y": {"datum": 1.281281, "type": "quantitative"}
      }
    },
    {
      "data": {"values": [{}]},
      "mark": {"type": "rule", "color": "black", "strokeWidth": 1, "xOffset": -13},
      "encoding": {
        "x": {"datum": "13:10", "type": "ordinal"},
        "y": {"datum": 1.268821, "type": "quantitative"},
        "y2": {"datum": 1.268132}
      }
    }
  ],
  "config": {
    "background": "white",
    "font": "Liberation Sans",
    "view": {"stroke": "black", "strokeWidth": 1}
  }
}
